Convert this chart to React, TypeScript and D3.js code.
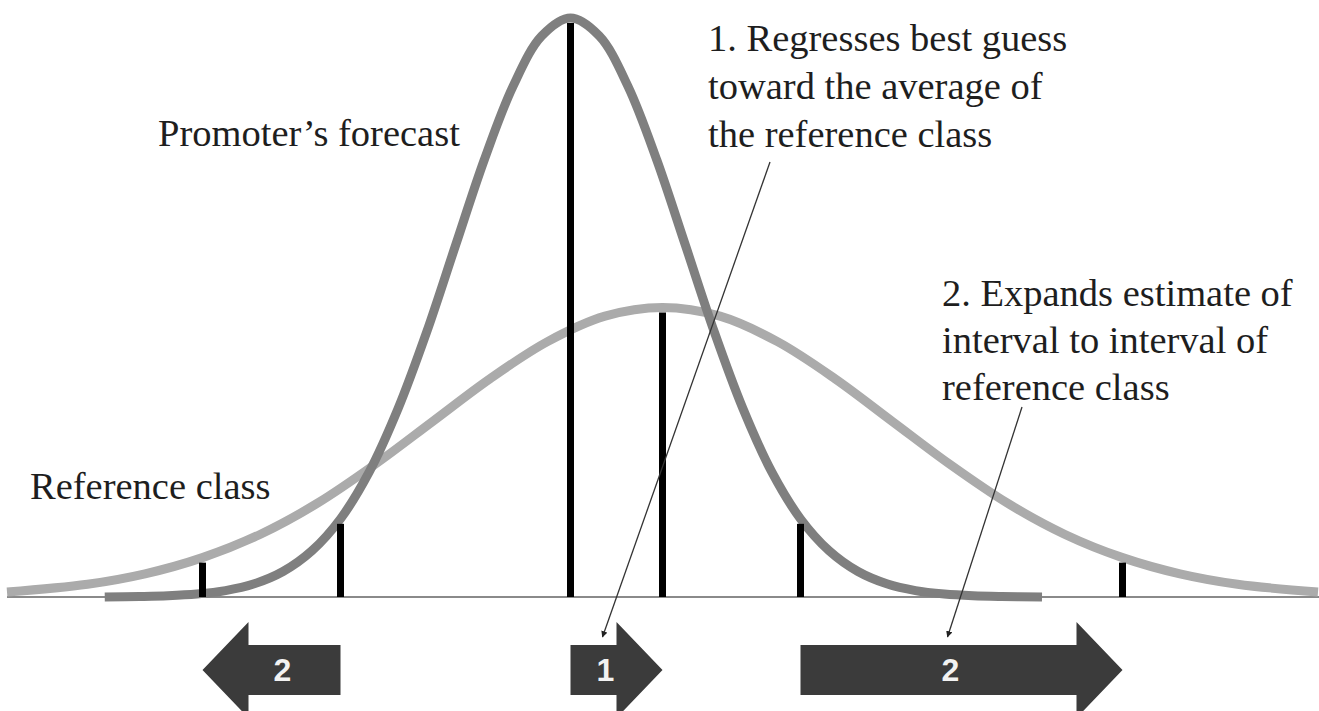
import * as d3 from "d3";
import { useEffect } from "react";

// values (x in promoter-sd units, v relative to promoter peak)
const promoterCurve = [
  { x: -4.05, v: 0 }, { x: -3.75, v: 0.0009 }, { x: -3.5, v: 0.0022 }, { x: -3.25, v: 0.0051 },
  { x: -3, v: 0.011 }, { x: -2.75, v: 0.0228 }, { x: -2.5, v: 0.044 }, { x: -2.25, v: 0.0796 },
  { x: -2, v: 0.135 }, { x: -1.75, v: 0.216 }, { x: -1.5, v: 0.325 }, { x: -1.25, v: 0.458 },
  { x: -1, v: 0.607 }, { x: -0.75, v: 0.755 }, { x: -0.5, v: 0.882 }, { x: -0.25, v: 0.969 },
  { x: 0, v: 1 },
  { x: 0.25, v: 0.969 }, { x: 0.5, v: 0.882 }, { x: 0.75, v: 0.755 }, { x: 1, v: 0.607 },
  { x: 1.25, v: 0.458 }, { x: 1.5, v: 0.325 }, { x: 1.75, v: 0.216 }, { x: 2, v: 0.135 },
  { x: 2.25, v: 0.0796 }, { x: 2.5, v: 0.044 }, { x: 2.75, v: 0.0228 }, { x: 3, v: 0.011 },
  { x: 3.25, v: 0.0051 }, { x: 3.5, v: 0.0022 }, { x: 3.75, v: 0.0009 }, { x: 4.1, v: 0 },
];

const referenceCurve = [
  { x: -4.9, v: 0.0086 }, { x: -4.2, v: 0.022 }, { x: -3.7, v: 0.04 }, { x: -3.2, v: 0.068 },
  { x: -2.7, v: 0.108 }, { x: -2.2, v: 0.162 }, { x: -1.7, v: 0.229 }, { x: -1.2, v: 0.303 },
  { x: -0.7, v: 0.377 }, { x: -0.2, v: 0.441 }, { x: 0.3, v: 0.485 }, { x: 0.8, v: 0.5 },
  { x: 1.3, v: 0.485 }, { x: 1.8, v: 0.441 }, { x: 2.3, v: 0.377 }, { x: 2.8, v: 0.303 },
  { x: 3.3, v: 0.229 }, { x: 3.8, v: 0.162 }, { x: 4.3, v: 0.108 }, { x: 4.8, v: 0.068 },
  { x: 5.3, v: 0.04 }, { x: 5.8, v: 0.022 }, { x: 6.5, v: 0.0086 },
];

const promoterTicks = [
  { x: -2, v: 0.135 }, { x: 0, v: 1 }, { x: 2, v: 0.135 },
];
const referenceTicks = [
  { x: -3.2, v: 0.068 }, { x: 0.8, v: 0.5 }, { x: 4.8, v: 0.068 },
];

const intervalArrows = [
  { tail: -2, tip: -3.2, label: "2" },
  { tail: 0, tip: 0.8, label: "1" },
  { tail: 2, tip: 4.8, label: "2" },
];

const noteRegress = ["1. Regresses best guess", "toward the average of", "the reference class"];
const noteExpand = ["2. Expands estimate of", "interval to interval of", "reference class"];

const W = 1319;
const H = 711;
const serif = "'Liberation Serif', 'Times New Roman', serif";

export default function App() {
  useEffect(() => {
    document.body.style.margin = "0";
  }, []);

  const x = d3.scaleLinear().domain([-4.9, 6.5]).range([7, 1318]);
  const y = d3.scaleLinear().domain([0, 1]).range([597, 18]);

  const line = d3
    .line<{ x: number; v: number }>()
    .x((d) => x(d.x))
    .y((d) => y(d.v))
    .curve(d3.curveCatmullRom.alpha(0.5));

  const midY = 670;
  const shaftHalf = 25;
  const headHalf = 48;
  const headLen = 46;

  const arrowPath = (tail: number, tip: number) => {
    const x0 = x(tail);
    const x1 = x(tip);
    const dir = x1 > x0 ? 1 : -1;
    const xb = x1 - dir * headLen;
    return [
      `M${x0},${midY - shaftHalf}`,
      `L${xb},${midY - shaftHalf}`,
      `L${xb},${midY - headHalf}`,
      `L${x1},${midY}`,
      `L${xb},${midY + headHalf}`,
      `L${xb},${midY + shaftHalf}`,
      `L${x0},${midY + shaftHalf}`,
      "Z",
    ].join("");
  };

  const labelX = (a: { tail: number; tip: number }) => {
    const x0 = x(a.tail);
    const x1 = x(a.tip);
    const dir = x1 > x0 ? 1 : -1;
    return (x0 + x1 - dir * headLen) / 2 + dir * 12;
  };

  const pointerTargets = [
    { from: [770, 162], arrow: intervalArrows[1] },
    { from: [1022, 407], arrow: intervalArrows[2] },
  ];

  return (
    <svg width={W} height={H} style={{ display: "block", background: "#fff" }}>
      <defs>
        <marker id="ptr" viewBox="0 0 10 10" refX="9" refY="5" markerWidth="5" markerHeight="5" orient="auto">
          <path d="M0,0L10,5L0,10Z" fill="#222" />
        </marker>
      </defs>

      {/* baseline */}
      <line x1={x(-4.9)} x2={W} y1={y(0)} y2={y(0)} stroke="#8a8a8a" strokeWidth={2} />

      {/* curves */}
      <path d={line(referenceCurve) ?? ""} fill="none" stroke="#ababab" strokeWidth={9} />
      <path d={line(promoterCurve) ?? ""} fill="none" stroke="#7f7f7f" strokeWidth={9} />

      {/* interval markers */}
      {[...promoterTicks, ...referenceTicks].map((t, i) => (
        <line
          key={i}
          x1={x(t.x)}
          x2={x(t.x)}
          y1={y(0)}
          y2={y(t.v) + 5}
          stroke="#000"
          strokeWidth={7}
        />
      ))}

      {/* arrows */}
      {intervalArrows.map((a, i) => (
        <g key={i}>
          <path d={arrowPath(a.tail, a.tip)} fill="#3b3b3b" />
          <text
            x={labelX(a)}
            y={midY + 11}
            textAnchor="middle"
            fill="#f2f2f2"
            fontFamily="'Liberation Sans', Arial, sans-serif"
            fontWeight="bold"
            fontSize={32}
          >
            {a.label}
          </text>
        </g>
      ))}

      {/* pointers */}
      {pointerTargets.map((p, i) => (
        <line
          key={i}
          x1={p.from[0]}
          y1={p.from[1]}
          x2={labelX(p.arrow) - 3}
          y2={midY - shaftHalf - 8}
          stroke="#333"
          strokeWidth={1.3}
          markerEnd="url(#ptr)"
        />
      ))}

      {/* labels */}
      <g fontFamily={serif} fontSize={38.5} fill="#1e1e1e">
        <text x={158} y={146}>Promoter’s forecast</text>
        <text x={30} y={499}>Reference class</text>
        {noteRegress.map((s, i) => (
          <text key={s} x={708} y={51 + i * 48}>{s}</text>
        ))}
        {noteExpand.map((s, i) => (
          <text key={s} x={942} y={306 + i * 47}>{s}</text>
        ))}
      </g>
    </svg>
  );
}
